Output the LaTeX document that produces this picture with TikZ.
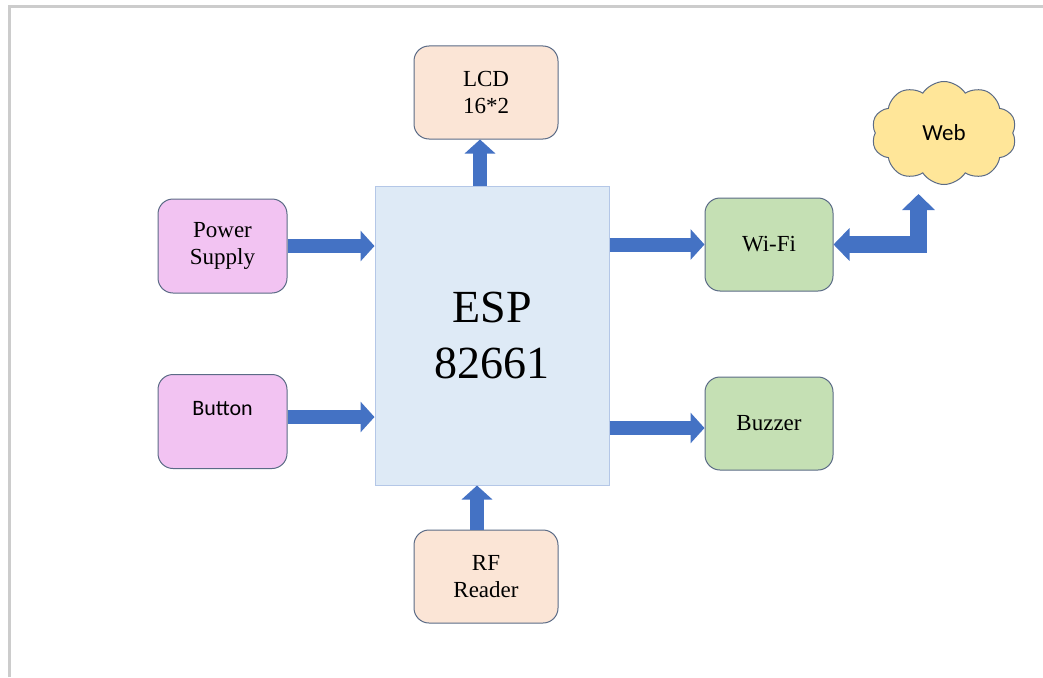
\documentclass[tikz,border=0pt]{standalone}
\usepackage{fontspec}
\setmainfont{Liberation Serif}
\newfontfamily\calibri{Carlito}
\usetikzlibrary{arrows.meta,shapes.symbols}

\definecolor{espfill}{HTML}{DEEAF6}
\definecolor{espline}{HTML}{B4C7E7}
\definecolor{peachfill}{HTML}{FBE5D6}
\definecolor{pinkfill}{HTML}{F2C3F2}
\definecolor{greenfill}{HTML}{C5E0B4}
\definecolor{cloudfill}{HTML}{FFE699}
\definecolor{boxline}{HTML}{5B6B86}
\definecolor{arrowblue}{HTML}{4472C4}
\definecolor{framegray}{HTML}{CCCCCC}

\tikzset{
  box/.style={draw=boxline, line width=1pt, rounded corners=15pt,
    minimum width=129pt, minimum height=94pt, inner sep=0pt,
    align=center, font=\fontsize{23}{27}\selectfont},
  espbox/.style={draw=espline, fill=espfill, line width=1pt,
    minimum width=234pt, minimum height=299pt, inner sep=0pt,
    align=center, font=\fontsize{46}{56}\selectfont},
  blockarr/.style={draw=arrowblue, line width=14pt,
    -{Triangle[width=30pt,length=14pt]}},
}

\begin{document}
\begin{tikzpicture}[x=1pt,y=-1pt]
\useasboundingbox (0,0) rectangle (1043,677);
% frame
\draw[framegray, line width=3pt] (9,677) -- (9,7) -- (1043,7);

% blocks
\node[espbox] (esp) at (492,335.5) {ESP\\82661};
\node[box, fill=peachfill, minimum width=144pt, minimum height=93pt] (lcd) at (486,92.5) {LCD\\16*2};
\node[box, fill=peachfill, minimum width=144pt, minimum height=93pt] (rf) at (486,576.5) {RF\\Reader};
\node[box, fill=pinkfill] (pwr) at (222.5,246) {Power\\Supply};
\node[box, fill=pinkfill, font=\calibri\fontsize{22}{26}\selectfont] (btn) at (222.5,421.5) {Button\\\mbox{}};
\node[box, fill=greenfill, minimum width=128pt, minimum height=93pt] (wifi) at (769,244.5) {Wi-Fi};
\node[box, fill=greenfill, minimum width=128pt, minimum height=93pt] (buz) at (769,423.5) {Buzzer};
\node[cloud, cloud puffs=10, cloud puff arc=115, aspect=1.45, draw=boxline, fill=cloudfill, line width=1pt,
  minimum width=145pt, minimum height=103pt, inner sep=0pt,
  font=\calibri\fontsize{23}{27}\selectfont] (web) at (944,133) {Web};
\coordinate (webin) at (918.5,194);

% arrows
\draw[blockarr] (pwr.east) -- (esp.west |- pwr.east);
\draw[blockarr] ([yshift=4.5pt]btn.east) -- ([yshift=4.5pt]esp.west |- btn.east);
\draw[blockarr] (esp.east |- wifi.west) -- (wifi.west);
\draw[blockarr] ([yshift=-4.5pt]esp.east |- buz.west) -- ([yshift=-4.5pt]buz.west);
\draw[blockarr] ([xshift=-6pt]esp.north -| lcd.south) -- ([xshift=-6pt]lcd.south);
\draw[blockarr] ([xshift=-9pt]rf.north) -- ([xshift=-9pt]rf.north |- esp.south);
\draw[blockarr, line width=17pt, line join=miter,
  {Triangle[width=32pt,length=16pt]}-{Triangle[width=32pt,length=16pt]}]
  (wifi.east) -- (webin |- wifi.east) -- (webin);
\end{tikzpicture}
\end{document}
